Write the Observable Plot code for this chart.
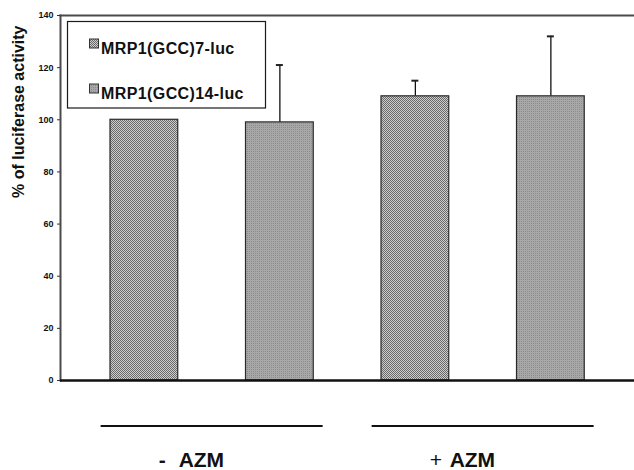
<!DOCTYPE html>
<html>
<head>
<meta charset="utf-8">
<script src="https://cdn.jsdelivr.net/npm/d3@7"></script>
<script src="https://cdn.jsdelivr.net/npm/@observablehq/plot@0.6"></script>
<style>
  html, body { margin: 0; padding: 0; background: #fff; }
  #chart { width: 634px; height: 470px; }
</style>
</head>
<body>
<div id="chart"></div>
<script>
// ---- data ----
const groups = ["- AZM", "+ AZM"];
const constructs = ["MRP1(GCC)7-luc", "MRP1(GCC)14-luc"];
const values7 = [100, 109];     // % of luciferase activity, MRP1(GCC)7-luc
const values14 = [99, 109];     // % of luciferase activity, MRP1(GCC)14-luc
const err7 = [0, 6];            // upper error
const err14 = [22, 23];
const yTicks = [0, 20, 40, 60, 80, 100, 120, 140];
const yLabel = "% of luciferase activity";

const patternIds = ["pat7", "pat14"];
const rows = [];
groups.forEach((g, gi) => {
  constructs.forEach((c, ci) => {
    const v = ci === 0 ? values7[gi] : values14[gi];
    const e = ci === 0 ? err7[gi] : err14[gi];
    rows.push({key: g + "|" + c, group: g, construct: c, ci, value: v, err: e, top: v + e});
  });
});
const keys = rows.map(d => d.key);
const withErr = rows.filter(d => d.err > 0);
const bw = 67.75;
const capW = 7;

const font = "'Liberation Sans', Arial, Helvetica, sans-serif";

const plot = Plot.plot({
  width: 634,
  height: 470,
  marginTop: 15,
  marginBottom: 90,
  marginLeft: 60,
  marginRight: 0,
  style: {fontFamily: font, background: "white", color: "#111"},
  x: {domain: keys, range: [76.125, 618.125], paddingInner: 0.5, paddingOuter: 0.25, round: false, axis: null},
  y: {domain: [0, 140], axis: null},
  marks: [
    Plot.frame({anchor: "top", stroke: "#4a4a4a", strokeWidth: 2}),
    Plot.frame({anchor: "left", stroke: "#4a4a4a", strokeWidth: 2}),
    Plot.ruleX(withErr, {x: "key", y1: "value", y2: "top", stroke: "#111", strokeWidth: 1.3}),
    Plot.tickY(withErr, {x: "key", y: "top", stroke: "#222", strokeWidth: 2, insetLeft: (bw - capW) / 2, insetRight: (bw - capW) / 2}),
    Plot.barY(rows.filter(d => d.ci === 0), {x: "key", y: "value", fill: "url(#pat7)", stroke: "#2a2a2a", strokeWidth: 1.2}),
    Plot.barY(rows.filter(d => d.ci === 1), {x: "key", y: "value", fill: "url(#pat14)", stroke: "#2a2a2a", strokeWidth: 1.2}),
    Plot.ruleY([0], {stroke: "#111", strokeWidth: 2.7}),
    Plot.axisY({ticks: yTicks, tickSize: 3, tickPadding: 4, fontSize: 9, fontWeight: "bold", label: null, tickFormat: d => String(d), stroke: "#333"}),
    Plot.text([yLabel], {frameAnchor: "left", rotate: -90, dx: -42, fontSize: 16, fontWeight: "bold", fill: "#111"})
  ]
});

document.getElementById("chart").appendChild(plot);

// ---- patterns, legend and group annotations ----
const svg = d3.select(plot);
const defs = svg.insert("defs", ":first-child");
function makePattern(id, a, b, c, d) {
  const p = defs.append("pattern").attr("id", id).attr("patternUnits", "userSpaceOnUse")
    .attr("width", 2).attr("height", 2);
  [[0, 0, a], [1, 0, b], [0, 1, c], [1, 1, d]].forEach(([x, y, col]) =>
    p.append("rect").attr("x", x).attr("y", y).attr("width", 1).attr("height", 1)
      .attr("fill", col).attr("shape-rendering", "crispEdges"));
}
makePattern("pat7", "#6a6a6a", "#cdcdcd", "#cdcdcd", "#6a6a6a");
makePattern("pat14", "#a8a8a8", "#a8a8a8", "#a8a8a8", "#8c8c8c");

const xs = plot.scale("x");
const bwAct = xs.bandwidth;

// legend
const lg = svg.append("g").attr("font-family", font).attr("text-anchor", "start");
lg.append("rect").attr("x", 67.5).attr("y", 21.5).attr("width", 198).attr("height", 86.5)
  .attr("fill", "white").attr("stroke", "#1a1a1a").attr("stroke-width", 1.2);
constructs.forEach((c, i) => {
  const y0 = 39 + i * 45;
  lg.append("rect").attr("x", 89.5).attr("y", y0).attr("width", 9).attr("height", 9)
    .attr("fill", `url(#${patternIds[i]})`).attr("stroke", "#333").attr("stroke-width", 1);
  lg.append("text").attr("x", 101).attr("y", y0 + 15).attr("font-size", 16)
    .attr("font-weight", "bold").attr("fill", "#111").attr("letter-spacing", 0.4)
    .attr("text-anchor", "start").text(c);
});

// group annotations under the axis
groups.forEach((g, gi) => {
  const k0 = keys[gi * 2], k1 = keys[gi * 2 + 1];
  const cx = (xs.apply(k0) + xs.apply(k1) + bwAct) / 2;
  svg.append("line").attr("x1", cx - 111).attr("x2", cx + 111).attr("y1", 426).attr("y2", 426)
    .attr("stroke", "#111").attr("stroke-width", 2);
  const sign = g.slice(0, 1);
  const name = g.slice(2);
  const t = svg.append("text").attr("y", 467).attr("font-family", font).attr("font-size", 21)
    .attr("fill", "#111").attr("text-anchor", "start");
  t.append("tspan").attr("x", cx - 53).attr("font-weight", sign === "+" ? "normal" : "bold").text(sign);
  t.append("tspan").attr("x", cx - 33).attr("font-weight", "bold").text(name);
});
</script>
</body>
</html>
